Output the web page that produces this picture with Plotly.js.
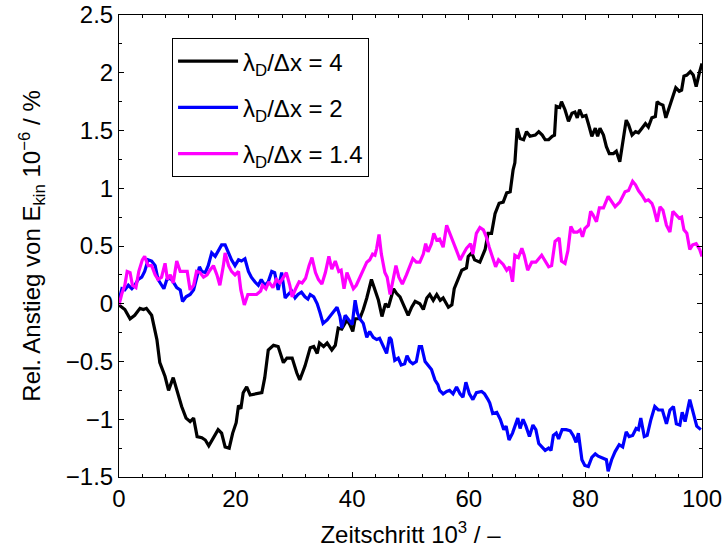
<!DOCTYPE html>
<html>
<head>
<meta charset="utf-8">
<script src="https://cdn.plot.ly/plotly-3.0.1.min.js"></script>
<style>html,body{margin:0;padding:0;background:#fff;}#chart{width:724px;height:549px;}</style>
</head>
<body>
<div id="chart"></div>
<script>
var seriesNames = ["λ<sub>D</sub>/Δx = 4", "λ<sub>D</sub>/Δx = 2", "λ<sub>D</sub>/Δx = 1.4"];

var xBlack = [0,1.0,1.9,2.7,3.6,4.2,4.7,5.6,6.5,7.0,7.9,8.5,9.3,9.9,10.75,11.5,12.2,12.8,13.4,14.2,14.8,15.4,16.2,17.0,17.6,18.2,18.9,19.5,20.1,20.5,20.9,21.3,21.9,22.5,24.5,25.0,25.6,26.5,27.3,28.2,28.8,29.7,30.5,31.0,31.9,32.8,33.4,34.0,34.4,35.1,35.7,36.5,37.1,37.6,38.2,39.1,39.6,40.1,40.5,41.3,41.9,42.5,43.3,43.9,44.5,45.1,45.7,46.2,47.1,47.6,48.2,48.8,49.6,50.2,50.8,51.6,52.2,52.8,53.3,53.9,54.5,55.1,55.6,56.5,57.1,57.5,58.2,58.8,59.6,59.9,60.5,61.0,61.9,62.8,63.3,63.9,64.5,65.2,65.9,66.5,67.1,67.6,67.9,68.3,68.8,69.4,69.9,70.5,71.4,72.0,72.6,73.1,73.7,74.3,74.7,75.0,75.6,75.9,76.5,77.1,77.7,78.2,78.6,79.0,79.5,80.1,80.5,81.1,81.7,82.1,82.5,83.1,83.6,84.1,84.8,85.3,85.9,86.4,87.0,87.4,88.0,88.6,89.1,89.7,90.3,90.8,91.4,92.0,92.3,92.8,93.3,93.8,94.5,95.1,95.5,96.1,96.5,96.9,97.4,98.0,98.5,99.0,99.6,100];
var yBlack = [-0.01,-0.05,-0.13,-0.10,-0.04,-0.05,-0.04,-0.10,-0.31,-0.51,-0.63,-0.75,-0.64,-0.75,-0.89,-0.99,-1.02,-0.99,-1.15,-1.16,-1.18,-1.23,-1.16,-1.09,-1.12,-1.24,-1.25,-1.12,-1.03,-0.88,-0.91,-0.77,-0.72,-0.79,-0.77,-0.64,-0.40,-0.36,-0.37,-0.51,-0.47,-0.47,-0.60,-0.66,-0.54,-0.38,-0.37,-0.43,-0.34,-0.37,-0.34,-0.40,-0.36,-0.21,-0.22,-0.14,-0.18,-0.24,-0.13,-0.13,-0.05,0.05,0.21,0.12,0.03,-0.11,0.00,-0.03,0.13,0.09,0.06,-0.01,-0.10,-0.03,0.02,0.00,-0.05,0.05,0.08,0.03,0.08,0.03,0.05,-0.03,-0.01,0.13,0.21,0.29,0.31,0.41,0.44,0.38,0.36,0.47,0.61,0.61,0.78,0.87,0.88,0.96,0.97,1.16,1.22,1.52,1.43,1.42,1.49,1.45,1.46,1.49,1.46,1.42,1.42,1.45,1.46,1.71,1.70,1.75,1.68,1.58,1.65,1.66,1.61,1.68,1.62,1.63,1.56,1.45,1.52,1.45,1.52,1.46,1.36,1.30,1.30,1.32,1.23,1.39,1.59,1.55,1.46,1.49,1.48,1.52,1.56,1.53,1.61,1.62,1.75,1.73,1.72,1.61,1.73,1.81,1.87,1.84,1.85,1.97,1.98,2.01,1.98,1.88,2.01,2.08];

var xBlue = [0,0.5,1.0,1.6,2.2,2.7,3.3,3.9,4.4,5.0,5.6,6.2,6.7,7.3,7.7,8.2,8.8,9.3,9.9,10.5,10.9,11.5,12.2,12.8,13.3,13.8,14.2,14.8,15.3,15.9,16.5,17.0,17.6,18.2,18.8,19.3,19.9,20.5,21.0,21.6,22.2,22.7,23.3,23.9,24.4,25.0,25.6,26.2,26.7,27.3,27.9,28.5,29.0,29.6,30.2,30.7,31.3,31.9,32.4,32.8,33.4,34.0,34.5,35.0,35.7,36.3,36.9,37.4,37.9,38.2,38.8,39.4,40.0,40.5,40.9,41.3,41.9,42.5,43.0,43.6,44.2,44.7,45.3,45.9,46.4,46.7,47.3,47.9,48.4,49.0,49.4,49.9,50.4,51.0,51.5,51.9,52.5,53.0,53.6,54.2,54.7,55.0,55.6,56.2,56.7,57.3,57.9,58.5,59.0,59.5,60.1,60.7,61.3,62.2,62.7,63.3,63.6,64.1,64.8,65.4,66.0,66.4,66.9,67.5,68.0,68.4,68.8,69.3,69.8,70.4,71.0,71.5,72.0,72.5,73.1,73.7,74.1,74.5,75.0,75.4,76.0,76.7,77.4,77.9,78.4,78.8,79.4,79.9,80.5,81.1,81.7,82.2,82.8,83.6,83.9,84.5,85.1,85.8,86.4,87.0,87.5,88.1,88.7,89.1,89.5,90.1,90.6,91.2,91.9,92.5,93.2,93.9,94.5,95.1,95.6,96.2,96.6,97.1,97.9,98.5,99.1,99.8];
var yBlue = [0.03,0.13,0.12,0.16,0.13,0.16,0.21,0.23,0.28,0.38,0.37,0.33,0.21,0.16,0.13,0.21,0.22,0.19,0.14,0.12,0.02,0.06,0.08,0.12,0.23,0.32,0.28,0.27,0.33,0.44,0.41,0.45,0.51,0.51,0.44,0.38,0.33,0.38,0.37,0.39,0.28,0.23,0.19,0.16,0.21,0.16,0.19,0.28,0.27,0.12,0.27,0.05,0.08,0.11,0.05,0.08,0.10,0.06,0.04,0.08,0.06,0.00,-0.08,-0.17,-0.14,-0.10,-0.07,-0.03,-0.11,-0.21,-0.10,-0.14,-0.18,0.03,-0.08,-0.13,-0.17,-0.29,-0.24,-0.29,-0.31,-0.30,-0.37,-0.43,-0.29,-0.31,-0.49,-0.47,-0.53,-0.52,-0.45,-0.50,-0.52,-0.50,-0.37,-0.37,-0.50,-0.53,-0.57,-0.66,-0.70,-0.75,-0.78,-0.76,-0.75,-0.78,-0.72,-0.78,-0.81,-0.68,-0.78,-0.83,-0.77,-0.76,-0.78,-0.83,-0.86,-0.95,-0.94,-1.00,-1.09,-1.06,-1.18,-1.12,-1.04,-0.99,-1.08,-1.00,-1.06,-1.15,-1.05,-1.09,-1.21,-1.24,-1.27,-1.25,-1.27,-1.14,-1.12,-1.17,-1.09,-1.09,-1.10,-1.14,-1.20,-1.12,-1.35,-1.40,-1.41,-1.33,-1.30,-1.32,-1.33,-1.35,-1.45,-1.35,-1.28,-1.22,-1.24,-1.11,-1.15,-1.14,-1.08,-1.09,-0.99,-1.15,-1.14,-1.01,-0.89,-0.92,-0.92,-1.04,-0.92,-0.89,-1.04,-1.05,-0.94,-1.02,-0.83,-0.95,-1.06,-1.09];

var xMagenta = [0,0.5,1.0,1.4,1.9,2.3,2.9,3.4,4.0,4.4,5.0,5.6,6.2,6.7,7.3,7.9,8.3,8.8,9.3,9.9,10.5,11.1,11.7,12.2,12.8,13.3,13.9,14.5,15.1,15.6,16.2,16.8,17.3,17.9,18.2,18.8,19.3,19.9,20.5,20.9,21.5,22.1,22.7,23.6,24.3,24.6,25.2,25.7,26.4,27.0,27.6,28.1,28.7,29.3,29.7,30.3,30.9,31.4,32.0,32.6,33.1,33.7,34.2,34.8,35.4,36.0,36.5,37.1,37.7,38.1,38.6,39.1,39.6,40.2,40.7,41.3,41.9,42.5,43.0,43.5,43.9,44.2,44.6,45.0,45.6,46.0,46.5,47.0,47.5,48.0,48.6,49.3,49.9,50.4,51.0,51.6,52.2,52.6,53.0,53.6,54.0,54.5,55.0,55.6,56.2,56.7,57.3,57.9,58.5,59.0,59.6,60.3,60.7,61.3,61.9,62.5,63.0,63.5,64.0,64.6,65.1,65.9,66.5,67.0,67.5,67.9,68.5,69.1,69.5,70.1,70.8,71.5,72.5,73.1,73.7,74.2,74.8,75.5,75.9,76.5,77.0,77.5,78.0,78.6,79.1,79.5,79.9,80.5,80.9,81.3,81.9,82.4,83.1,83.9,84.5,85.1,85.9,86.8,87.4,88.1,88.6,89.1,89.7,90.3,90.8,91.4,91.7,92.3,92.8,93.3,93.9,94.5,95.0,95.5,96.1,96.5,96.9,97.4,97.9,98.4,99.0,99.6,100];
var yMagenta = [-0.01,0.09,0.16,0.28,0.27,0.16,0.14,0.28,0.38,0.41,0.33,0.33,0.25,0.21,0.23,0.35,0.21,0.25,0.18,0.37,0.28,0.28,0.28,0.12,0.16,0.28,0.27,0.23,0.25,0.29,0.33,0.25,0.16,0.33,0.44,0.33,0.28,0.25,0.28,0.12,-0.01,0.08,0.08,0.08,0.11,0.16,0.13,0.19,0.14,0.21,0.18,0.22,0.27,0.16,0.06,0.13,0.19,0.18,0.22,0.33,0.40,0.27,0.21,0.17,0.27,0.41,0.30,0.37,0.28,0.29,0.13,0.27,0.20,0.13,0.16,0.23,0.30,0.36,0.38,0.43,0.42,0.48,0.60,0.43,0.27,0.23,0.08,0.21,0.33,0.23,0.17,0.25,0.33,0.39,0.36,0.36,0.43,0.52,0.45,0.52,0.61,0.55,0.56,0.49,0.68,0.62,0.55,0.46,0.38,0.43,0.48,0.52,0.43,0.61,0.66,0.64,0.58,0.49,0.41,0.32,0.38,0.34,0.29,0.32,0.19,0.42,0.40,0.48,0.42,0.29,0.36,0.36,0.42,0.37,0.32,0.33,0.54,0.57,0.37,0.35,0.46,0.67,0.62,0.62,0.64,0.58,0.65,0.68,0.80,0.77,0.71,0.83,0.83,0.93,0.89,0.84,0.88,0.97,0.98,1.06,1.03,0.98,0.94,0.89,0.90,0.87,0.83,0.71,0.84,0.81,0.68,0.62,0.80,0.77,0.74,0.75,0.64,0.61,0.47,0.51,0.52,0.47,0.41];

var xTickVals = [0,20,40,60,80,100];
var yTickVals = [-1.5,-1,-0.5,0,0.5,1,1.5,2,2.5];

var FONT = "Liberation Sans, Arial, Helvetica, sans-serif";

var traces = [
  {x: xBlack, y: yBlack, name: seriesNames[0], legendgroup: "a", line: {color: "#000000", width: 3.2}},
  {x: xBlue, y: yBlue, name: seriesNames[1], legendgroup: "b", line: {color: "#0000ff", width: 3.2}},
  {x: xMagenta, y: yMagenta, name: seriesNames[2], legendgroup: "c", line: {color: "#ff00ff", width: 3.2}}
].map(function(t){ t.type = "scatter"; t.mode = "lines"; return t; });

var axisCommon = {
  showgrid: false, zeroline: false,
  showline: true, linecolor: "#000", linewidth: 1, mirror: "ticks",
  ticks: "inside", ticklen: 5, tickcolor: "#000", tickwidth: 1,
  tickfont: {family: FONT, size: 24, color: "#000"}
};

var layout = {
  width: 724, height: 549,
  margin: {l: 119, r: 22, t: 15, b: 72},
  paper_bgcolor: "#fff", plot_bgcolor: "#fff",
  font: {family: FONT, size: 24, color: "#000"},
  showlegend: true,
  legend: {
    x: 0.091, y: 0.95, xanchor: "left", yanchor: "top",
    bgcolor: "#fff", bordercolor: "#000", borderwidth: 1,
    font: {family: FONT, size: 24, color: "#000"},
    tracegroupgap: 12, itemwidth: 60
  },
  xaxis: Object.assign({}, axisCommon, {
    range: [0, 100], tickvals: xTickVals,
    minor: {dtick: 4, ticks: "inside", ticklen: 3, tickcolor: "#000", showgrid: false},
    title: {text: "Zeitschritt 10<sup>3</sup> / –", font: {family: FONT, size: 24, color: "#000"}, standoff: 15}
  }),
  yaxis: Object.assign({}, axisCommon, {
    range: [-1.5, 2.5], tickvals: yTickVals,
    minor: {dtick: 0.25, ticks: "inside", ticklen: 3, tickcolor: "#000", showgrid: false},
    title: {text: "Rel. Anstieg von E<sub>kin</sub> 10<sup>−6</sup> / %", font: {family: FONT, size: 24, color: "#000"}, standoff: 18}
  })
};

Plotly.newPlot("chart", traces, layout, {displayModeBar: false, staticPlot: true});
</script>
</body>
</html>
